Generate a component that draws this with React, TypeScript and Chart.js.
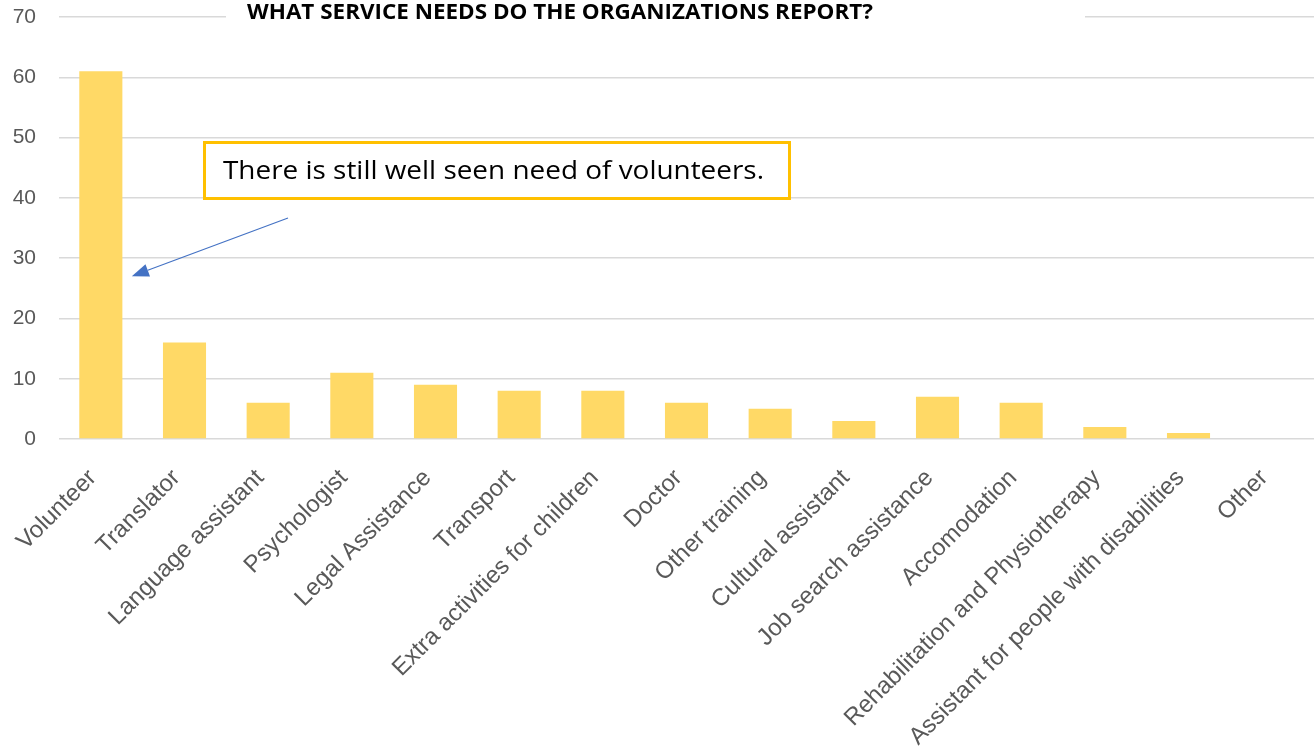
import React, { useEffect, useRef } from "react";
import { Chart, registerables } from "chart.js";

Chart.register(...registerables);

const categories = [
  "Volunteer",
  "Translator",
  "Language assistant",
  "Psychologist",
  "Legal Assistance",
  "Transport",
  "Extra activities for children",
  "Doctor",
  "Other training",
  "Cultural assistant",
  "Job search assistance",
  "Accomodation",
  "Rehabilitation and Physiotherapy",
  "Assistant for people with disabilities",
  "Other",
];
const counts = [61, 16, 6, 11, 9, 8, 8, 6, 5, 3, 7, 6, 2, 1, 0];
const yTicks = [0, 10, 20, 30, 40, 50, 60, 70];
const titleText = "WHAT SERVICE NEEDS DO THE ORGANIZATIONS REPORT?";
const noteText = "There is still well seen need of volunteers.";
const noteTargetValue = 27;

const W = 1314;
const H = 752;

function drawScaledText(ctx: CanvasRenderingContext2D, text: string, x: number, y: number, width: number) {
  const m = ctx.measureText(text).width;
  ctx.save();
  ctx.translate(x, y);
  ctx.scale(width / m, 1);
  ctx.fillText(text, 0, 0);
  ctx.restore();
}

const overlayPlugin = {
  id: "overlay",
  afterDraw(chart: any) {
    const ctx: CanvasRenderingContext2D = chart.ctx;
    const xs = chart.scales.x;
    const ys = chart.scales.y;
    ctx.save();
    // title with white background over the top gridline
    ctx.fillStyle = "#ffffff";
    ctx.fillRect(226, 2, 1085 - 226, 24);
    ctx.fillStyle = "#000000";
    ctx.font = "bold 21px 'Open Sans'";
    ctx.textAlign = "left";
    ctx.textBaseline = "alphabetic";
    drawScaledText(ctx, titleText, 247, 19, 626);

    // annotation box
    ctx.fillStyle = "#ffffff";
    ctx.fillRect(203, 141, 588, 59);
    ctx.strokeStyle = "#FFC000";
    ctx.lineWidth = 3;
    ctx.strokeRect(204.5, 142.5, 585, 56);
    ctx.fillStyle = "#000000";
    ctx.font = "26px 'Open Sans'";
    ctx.textBaseline = "middle";
    drawScaledText(ctx, noteText, 223, 172, 541);

    // arrow
    const tipX = xs.getPixelForValue(0) + 31;
    const tipY = ys.getPixelForValue(noteTargetValue);
    const tailX = 288;
    const tailY = 218;
    const ang = Math.atan2(tipY - tailY, tipX - tailX);
    const headLen = 17;
    const headW = 6.5;
    const bx = tipX - headLen * Math.cos(ang);
    const by = tipY - headLen * Math.sin(ang);
    ctx.strokeStyle = "#4472C4";
    ctx.fillStyle = "#4472C4";
    ctx.lineWidth = 1.2;
    ctx.beginPath();
    ctx.moveTo(tailX, tailY);
    ctx.lineTo(bx, by);
    ctx.stroke();
    ctx.beginPath();
    ctx.moveTo(tipX, tipY);
    ctx.lineTo(bx + headW * Math.sin(ang), by - headW * Math.cos(ang));
    ctx.lineTo(bx - headW * Math.sin(ang), by + headW * Math.cos(ang));
    ctx.closePath();
    ctx.fill();
    ctx.restore();
  },
};

export default function App() {
  const ref = useRef<HTMLCanvasElement | null>(null);
  useEffect(() => {
    if (!ref.current) return;
    const chart = new Chart(ref.current, {
      type: "bar",
      data: {
        labels: categories,
        datasets: [
          {
            data: counts,
            backgroundColor: "#FFD966",
            borderWidth: 0,
            barPercentage: 1,
            categoryPercentage: 0.515,
          },
        ],
      },
      options: {
        animation: false,
        responsive: false,
        devicePixelRatio: 1,
        layout: { padding: { top: 17, right: 0, left: 0, bottom: 0 } },
        plugins: {
          legend: { display: false },
          tooltip: { enabled: false },
          title: { display: false },
        },
        scales: {
          x: {
            grid: { display: false },
            border: { display: false },
            ticks: {
              minRotation: 45,
              maxRotation: 45,
              autoSkip: false,
              padding: 17,
              labelOffset: -8,
              color: "#595959",
              font: { family: "'Liberation Sans', Arial, sans-serif", size: 24 },
            },
            afterFit(scale: any) {
              scale.height = 313;
              scale.paddingLeft = 0;
              scale.paddingRight = 0;
            },
          },
          y: {
            min: 0,
            max: 70,
            afterBuildTicks(scale: any) {
              scale.ticks = yTicks.map((v) => ({ value: v }));
            },
            grid: { color: "#D9D9D9", lineWidth: 1.5, drawTicks: false },
            border: { display: false },
            ticks: {
              padding: 23,
              color: "#595959",
              font: { family: "'Liberation Sans', Arial, sans-serif", size: 21 },
            },
            afterFit(scale: any) {
              scale.width = 59;
              scale.paddingTop = 0;
              scale.paddingBottom = 0;
            },
          },
        },
      },
      plugins: [overlayPlugin],
    });
    return () => chart.destroy();
  }, []);
  return (
    <div style={{ position: "fixed", left: 0, top: 0, width: W, height: H, background: "#fff" }}>
      <canvas ref={ref} width={W} height={H} style={{ width: W, height: H, display: "block" }} />
    </div>
  );
}
